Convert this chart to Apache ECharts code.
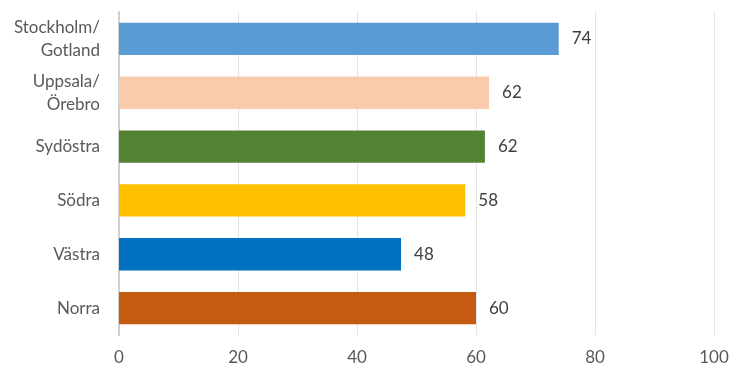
<!DOCTYPE html>
<html>
<head>
<meta charset="utf-8">
<script src="https://cdn.jsdelivr.net/npm/echarts@6/dist/echarts.min.js"></script>
<style>html,body{margin:0;padding:0;background:#fff}#c{width:752px;height:386px}</style>
</head>
<body>
<div id="c"></div>
<script>
const categories = ["Stockholm/\nGotland", "Uppsala/\nÖrebro", "Sydöstra", "Södra", "Västra", "Norra"];
const values = [73.9, 62.2, 61.5, 58.2, 47.4, 60.0];
const labels = [74, 62, 62, 58, 48, 60];
const colors = ["#5B9BD5", "#F8CBAD", "#548235", "#FFC000", "#0070C0", "#C55A11"];
const xTicks = [0, 20, 40, 60, 80, 100];

const font = "Lato, 'Open Sans', sans-serif";
const chart = echarts.init(document.getElementById('c'));
chart.setOption({
  animation: false,
  grid: { left: 119, right: 38, top: 12, bottom: 51, containLabel: false },
  xAxis: {
    type: 'value', min: xTicks[0], max: xTicks[xTicks.length - 1], interval: 20,
    axisLine: { show: false }, axisTick: { show: false },
    splitLine: { lineStyle: { color: '#E3E3E3', width: 1 } },
    axisLabel: { color: '#595959', fontSize: 17, fontFamily: font, margin: 14 }
  },
  yAxis: {
    type: 'category', data: categories, inverse: true,
    axisLine: { show: true, lineStyle: { color: '#D0D0D0', width: 2 } },
    axisTick: { show: false },
    axisLabel: { color: '#595959', fontSize: 17, fontFamily: font, margin: 19, lineHeight: 23, align: 'right' }
  },
  series: [{
    type: 'bar',
    data: values.map((v, i) => ({ value: v, itemStyle: { color: colors[i] } })),
    barCategoryGap: '40%',
    label: {
      show: true, position: 'right', distance: 13,
      color: '#404040', fontSize: 17, fontFamily: font,
      formatter: p => String(labels[p.dataIndex])
    }
  }]
});
</script>
</body>
</html>
